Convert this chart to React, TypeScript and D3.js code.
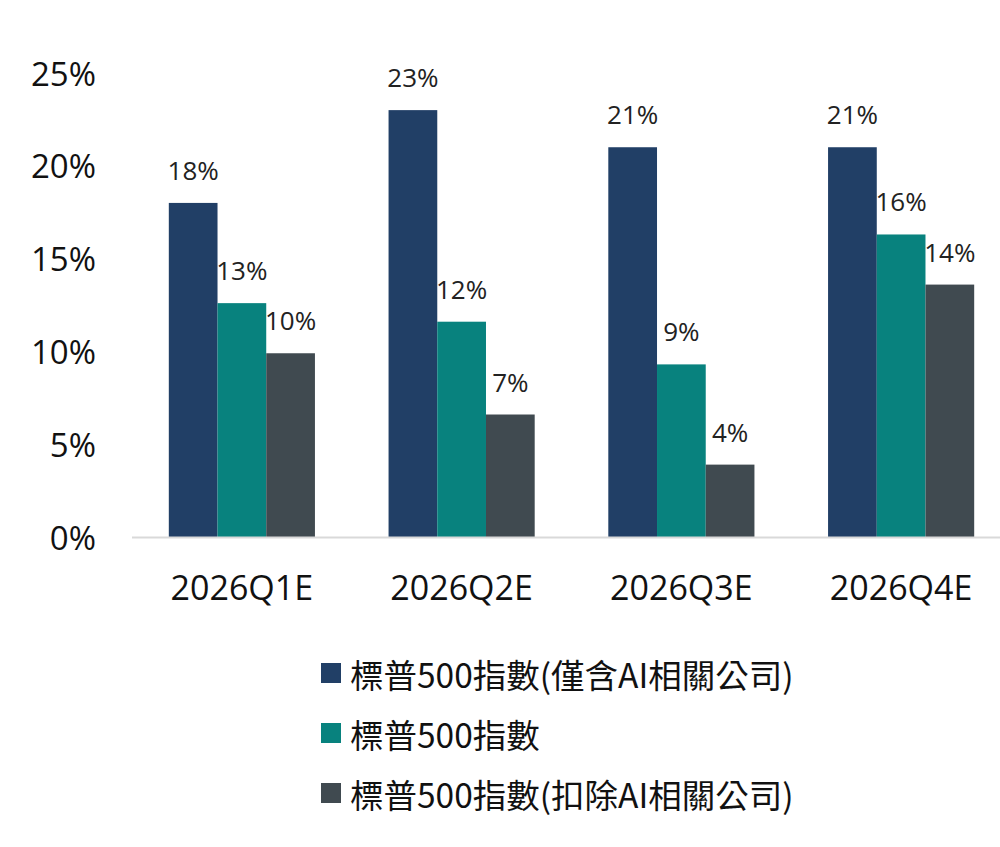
import React from "react";
import * as d3 from "d3";

const categories = ["2026Q1E", "2026Q2E", "2026Q3E", "2026Q4E"];
const seriesNames = [
  "標普500指數(僅含AI相關公司)",
  "標普500指數",
  "標普500指數(扣除AI相關公司)",
];
const aiOnly = [18.0, 23.0, 21.0, 21.0];
const sp500 = [12.6, 11.6, 9.3, 16.3];
const exAi = [9.9, 6.6, 3.9, 13.6];
const yTicks = [0, 5, 10, 15, 20, 25];
const colors = ["#213F66", "#08827E", "#404A50"];

const W = 1000;
const H = 847;

export default function App() {
  const series = [aiOnly, sp500, exAi];
  const x = d3.scaleBand<string>().domain(categories).range([132, 1011]).paddingInner(0.335).paddingOuter(0.1675);
  const inner = d3.scaleBand<number>().domain([0, 1, 2]).range([0, x.bandwidth()]);
  const y = d3.scaleLinear().domain([0, 25]).range([537, 73]);
  const font = "'Open Sans', 'Noto Sans CJK TC', sans-serif";
  const cjk = "'Noto Sans CJK TC', 'Open Sans', sans-serif";

  return (
    <svg width={W} height={H} style={{ position: "absolute", left: 0, top: 0, background: "#fff" }}>
      {yTicks.map((t) => (
        <text key={t} x={96} y={y(t)} textAnchor="end" dominantBaseline="central" fontFamily={font} fontSize={33} fill="#111">
          {t}%
        </text>
      ))}
      {categories.map((c, ci) => (
        <g key={c}>
          {series.map((s, si) => {
            const bx = (x(c) as number) + (inner(si) as number);
            const by = y(s[ci]);
            return (
              <g key={si}>
                <rect x={bx} y={by} width={inner.bandwidth()} height={y(0) - by} fill={colors[si]} />
                <text x={bx + inner.bandwidth() / 2} y={by - 23} textAnchor="middle" fontFamily={font} fontSize={26} fill="#222">
                  {Math.round(s[ci])}%
                </text>
              </g>
            );
          })}
          <text x={(x(c) as number) + x.bandwidth() / 2} y={600} textAnchor="middle" fontFamily={font} fontSize={34} fill="#111">
            {c}
          </text>
        </g>
      ))}
      <line x1={132} x2={1000} y1={537.5} y2={537.5} stroke="#D9D9D9" strokeWidth={2} />
      {seriesNames.map((n, i) => (
        <g key={n} transform={`translate(0, ${673 + i * 60})`}>
          <rect x={321} y={-10} width={20} height={20} fill={colors[i]} />
          <text x={350} y={0} dominantBaseline="central" fontFamily={cjk} fontSize={33.5} fill="#111">
            {n}
          </text>
        </g>
      ))}
    </svg>
  );
}
